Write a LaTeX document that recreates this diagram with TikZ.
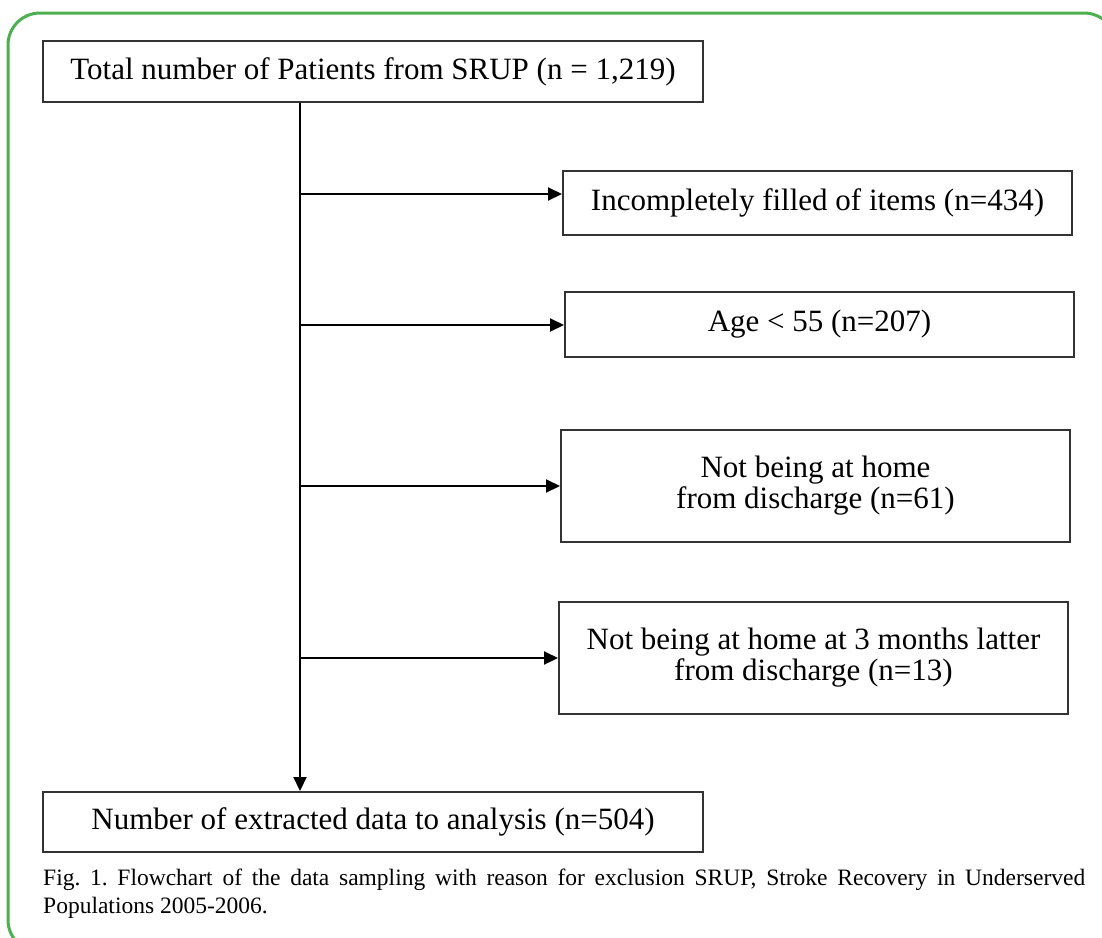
\documentclass[tikz,border=0pt]{standalone}
\usepackage{fontspec}
\setmainfont{Liberation Serif}
\usetikzlibrary{arrows.meta}
\definecolor{framegreen}{RGB}{76,175,80}
\def\trunkx{300}
\def\boxw{509pt}

\begin{document}
\frenchspacing
\begin{tikzpicture}[x=1pt,y=-1pt,
    box/.style={
      draw=black!80, line width=2pt, inner sep=0pt, align=center,
      font=\fontsize{31}{31}\selectfont
    },
    arrowtip/.style={
      -{Triangle[length=14pt,width=13pt]}, line width=2pt
    },
    caption/.style={
      inner sep=0pt, text width=1042pt, align=justify,
      font=\fontsize{23.5}{28}\selectfont
    }
  ]
    \clip (0,0) rectangle (1102,937);
    \draw[framegreen, line width=3pt, rounded corners=32pt] (8,13) rectangle (1116,952);

    \node[box, minimum width=660pt, minimum height=61pt] (total) at (373,71.5)
      {Total number of Patients from SRUP (n = 1,219)};
    \node[box, minimum width=\boxw, minimum height=64pt] (items) at (817.5,203)
      {Incompletely filled of items (n=434)};
    \node[box, minimum width=\boxw, minimum height=65pt] (age) at (819.5,324.5)
      {Age < 55 (n=207)};
    \node[box, minimum width=\boxw, minimum height=112pt] (home) at (815.5,486)
      {Not being at home\\from discharge (n=61)};
    \node[box, minimum width=\boxw, minimum height=112pt] (months) at (813.5,658)
      {Not being at home at 3 months latter\\from discharge (n=13)};
    \node[box, minimum width=660pt, minimum height=60pt] (final) at (373,822)
      {Number of extracted data to analysis (n=504)};

    \coordinate (j1) at (\trunkx,194);
    \coordinate (j2) at (\trunkx,325);
    \coordinate (j3) at (\trunkx,486);
    \coordinate (j4) at (\trunkx,658);

    \draw[arrowtip] (total.south -| j1) -- (final.north -| j1);
    \draw[arrowtip] (j1) -- (j1 -| items.west);
    \draw[arrowtip] (j2) -- (j2 -| age.west);
    \draw[arrowtip] (j3) -- (j3 -| home.west);
    \draw[arrowtip] (j4) -- (j4 -| months.west);

    \node[caption, anchor=north west] (cap) at (43,869)
      {Fig. 1. Flowchart of the data sampling with reason for exclusion SRUP, Stroke Recovery in Underserved\linebreak Populations 2005-2006.};
  \end{tikzpicture}
\end{document}
